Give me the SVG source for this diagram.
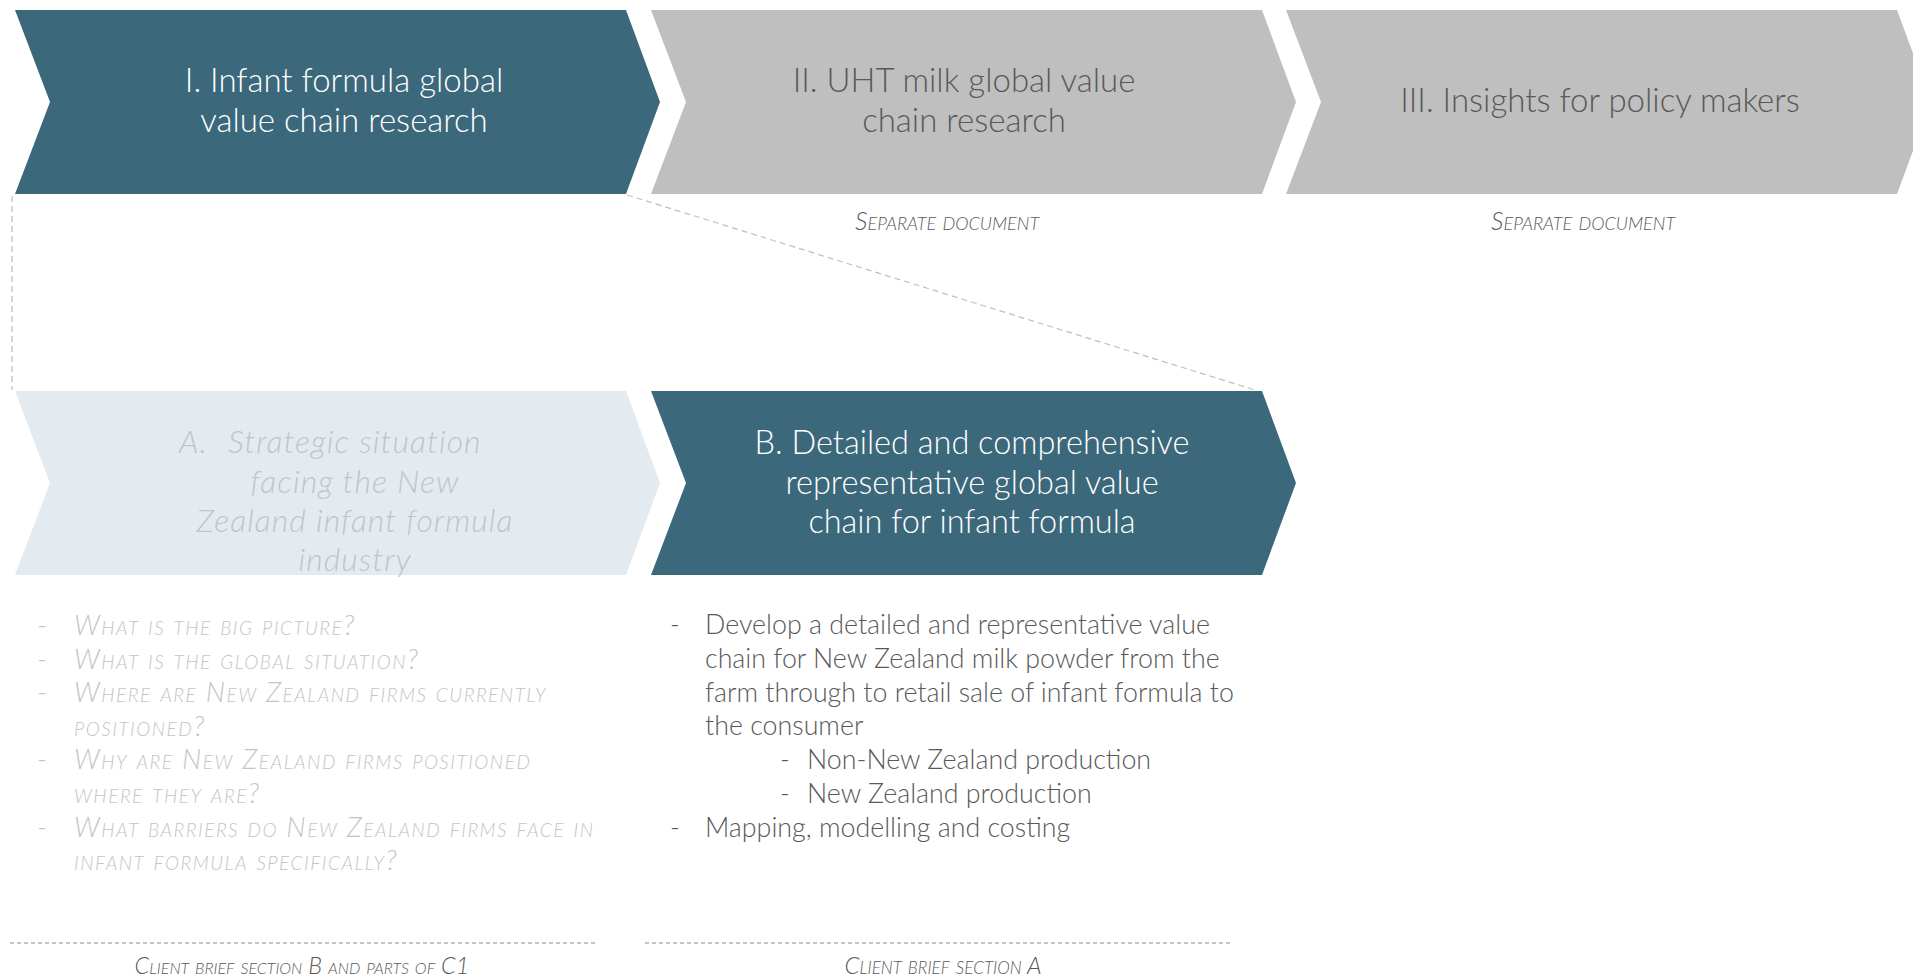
<svg xmlns="http://www.w3.org/2000/svg" width="1913" height="977" viewBox="0 0 1913 977">
<style>
  text { font-family: Lato, "Open Sans", "Liberation Sans", sans-serif; font-weight: 300; }
  .dark { fill: #3C687B; }
  .grey { fill: #BFBFBF; }
  .pale { fill: #E3EBF0; }
  .head { font-size: 33px; text-anchor: middle; }
  .white { fill: #FFFFFF; }
  .dgrey { fill: #595959; }
  .lgrey { fill: #C4C4C4; }
  .ital { font-style: italic; }
  .atxt { font-size: 32px; letter-spacing: 1px; }
  .sc { font-style: italic; font-variant: small-caps; }
  .note { text-anchor: middle; fill: #595959; }
  .bul { font-size: 26.8px; }
  .lbul { font-size: 27.5px; letter-spacing: 1.5px; }
  .dash { fill: none; stroke: #BFBFBF; stroke-width: 1.2; stroke-dasharray: 6 4; }
  .rule { fill: none; stroke: #8C8C8C; stroke-width: 1.2; stroke-dasharray: 4 3; }
</style>
<defs>
  <polygon id="chev" points="0,0 611,0 645,92 611,184 0,184 35,92"/>
</defs>
<rect width="1913" height="977" fill="#FFFFFF"/>

<g id="connectors">
  <line class="dash" x1="12" y1="196" x2="12" y2="390"/>
  <line class="dash" x1="627" y1="195" x2="1255" y2="390"/>
</g>

<g id="node-I">
  <use href="#chev" x="15" y="10" class="dark"/>
  <text class="head white" x="344" y="92">I. Infant formula global</text>
  <text class="head white" x="344" y="132">value chain research</text>
</g>

<g id="node-II">
  <use href="#chev" x="651" y="10" class="grey"/>
  <text class="head dgrey" x="964" y="92">II. UHT milk global value</text>
  <text class="head dgrey" x="964" y="132">chain research</text>
  <text class="note sc" style="font-size:25px" x="947" y="230">Separate document</text>
</g>

<g id="node-III">
  <use href="#chev" x="1286" y="10" class="grey"/>
  <text class="head dgrey" x="1600" y="112">III. Insights for policy makers</text>
  <text class="note sc" style="font-size:25px" x="1583" y="230">Separate document</text>
</g>

<g id="node-A">
  <use href="#chev" x="15" y="391" class="pale"/>
  <text class="ital lgrey atxt" y="453"><tspan x="179">A.</tspan><tspan x="228">Strategic situation</tspan></text>
  <text class="head ital lgrey atxt" x="355" y="493">facing the New</text>
  <text class="head ital lgrey atxt" x="355" y="532">Zealand infant formula</text>
  <text class="head ital lgrey atxt" x="355" y="571">industry</text>
</g>

<g id="node-A-list">
  <text class="lgrey bul" x="37" y="635">-</text>
  <text class="lgrey lbul sc" x="74" y="635">What is the big picture?</text>
  <text class="lgrey bul" x="37" y="669">-</text>
  <text class="lgrey lbul sc" x="74" y="669">What is the global situation?</text>
  <text class="lgrey bul" x="37" y="702">-</text>
  <text class="lgrey lbul sc" x="74" y="702">Where are New Zealand firms currently</text>
  <text class="lgrey lbul sc" x="74" y="736">positioned?</text>
  <text class="lgrey bul" x="37" y="769">-</text>
  <text class="lgrey lbul sc" x="74" y="769">Why are New Zealand firms positioned</text>
  <text class="lgrey lbul sc" x="74" y="803">where they are?</text>
  <text class="lgrey bul" x="37" y="837">-</text>
  <text class="lgrey lbul sc" x="74" y="837">What barriers do New Zealand firms face in</text>
  <text class="lgrey lbul sc" x="74" y="870">infant formula specifically?</text>
</g>

<g id="node-B">
  <use href="#chev" x="651" y="391" class="dark"/>
  <text class="head white" style="font-size:32.5px" x="972" y="454">B. Detailed and comprehensive</text>
  <text class="head white" style="font-size:32.5px" x="972" y="494">representative global value</text>
  <text class="head white" style="font-size:32.5px" x="972" y="533">chain for infant formula</text>
</g>

<g id="node-B-list">
  <text class="dgrey bul" x="670" y="634">-</text>
  <text class="dgrey bul" x="705" y="634">Develop a detailed and representative value</text>
  <text class="dgrey bul" x="705" y="668">chain for New Zealand milk powder from the</text>
  <text class="dgrey bul" x="705" y="702">farm through to retail sale of infant formula to</text>
  <text class="dgrey bul" x="705" y="735">the consumer</text>
  <text class="dgrey bul" x="780" y="769">-</text>
  <text class="dgrey bul" x="807" y="769">Non-New Zealand production</text>
  <text class="dgrey bul" x="780" y="803">-</text>
  <text class="dgrey bul" x="807" y="803">New Zealand production</text>
  <text class="dgrey bul" x="670" y="837">-</text>
  <text class="dgrey bul" x="705" y="837">Mapping, modelling and costing</text>
</g>

<g id="footer">
  <line class="rule" x1="10" y1="943" x2="597" y2="943"/>
  <line class="rule" x1="645" y1="943" x2="1233" y2="943"/>
  <text class="note sc" style="font-size:23.5px" x="302" y="974">Client brief section B and parts of C1</text>
  <text class="note sc" style="font-size:24px" x="943" y="974">Client brief section A</text>
</g>
</svg>
